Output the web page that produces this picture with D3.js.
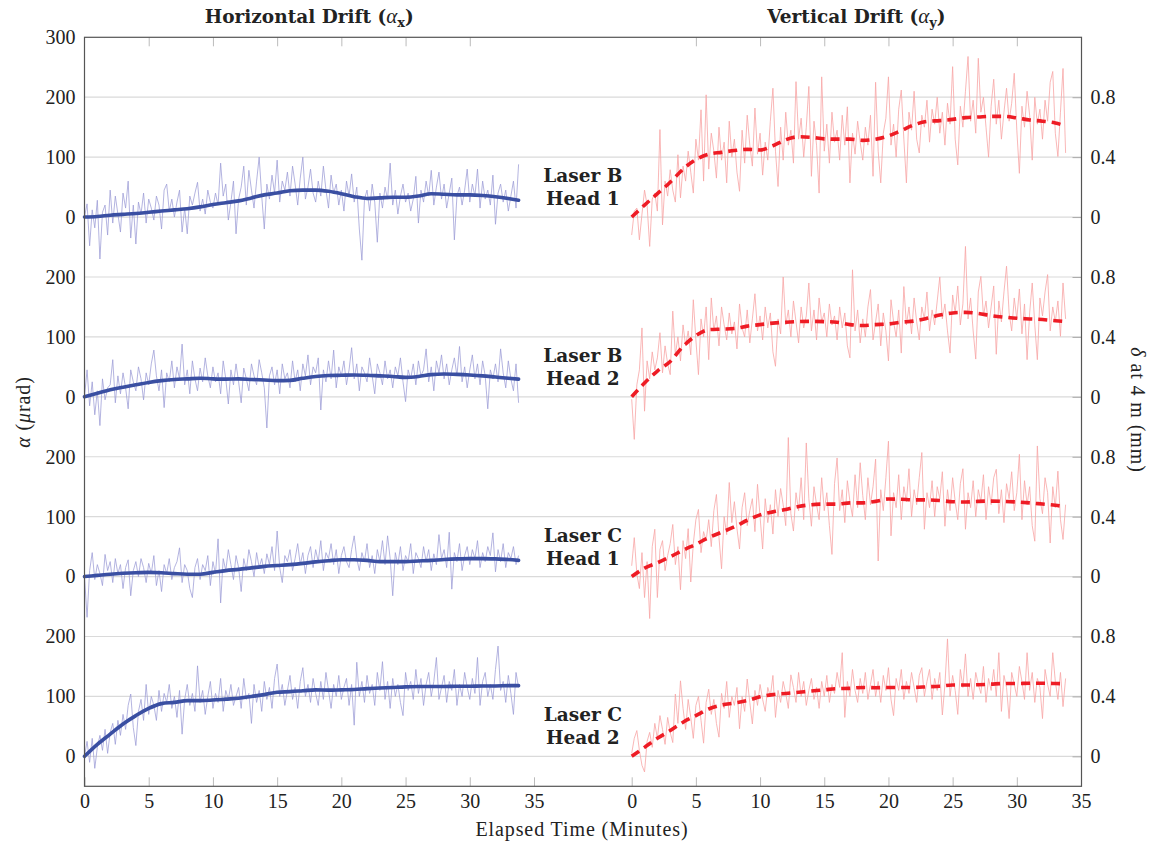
<!DOCTYPE html>
<html>
<head>
<meta charset="utf-8">
<script src="https://cdn.jsdelivr.net/npm/d3@7"></script>
<style>
  html, body { margin: 0; padding: 0; background: #fff; }
  svg { display: block; }
</style>
</head>
<body>
<svg id="chart" width="1152" height="843"></svg>
<script>
// Sample spacing of the raw readings (minutes)
const sampleStep = 0.2;

// Row captions, top to bottom
const rowNames = [["Laser B", "Head 1"], ["Laser B", "Head 2"], ["Laser C", "Head 1"], ["Laser C", "Head 2"]];

// X tick labels (minutes) and Y tick values (µrad within a row)
const xTicks = [0, 5, 10, 15, 20, 25, 30, 35];
const rowTicks = [0, 100, 200];

// Raw horizontal drift, µrad, one reading every 0.2 min
const rawBH1x = [0, 22, -48, 12, -18, 28, -70, 8, 20, -30,
 45, -10, 35, 5, -25, 40, 15, 60, -35, 20,
 -45, 25, 5, 40, -10, 30, 15, -5, 35, 20,
 -20, 45, 55, 10, 30, 0, 25, 45, -25, 15,
 -28, 35, 20, 40, 58, 10, 30, 5, 45, 25,
 15, 40, 20, 90, 35, 55, -5, 25, 60, -28,
 30, 50, 85, 20, 78, 45, 15, 60, 100, 35,
 -20, 55, 30, 70, 40, 95, 25, 60, 45, 75,
 35, 85, 55, 20, 65, 100, 30, 50, 80, 40,
 25, 60, 35, 85, 45, 15, 70, 40, 55, 20,
 45, 10, 60, 35, 72, 25, 50, -20, -72, 30,
 45, 10, 55, 25, -42, 40, 15, 50, 30, 90,
 20, 45, 5, 35, 55, 25, 40, 10, 30, 68,
 -10, 45, 25, 60, 35, 78, 20, 50, 75, 30,
 55, 15, 40, 65, -38, 35, 50, 20, 45, 80,
 25, 55, 35, 80, 15, 60, 30, 45, 20, 70,
 -12, 40, 55, 25, 45, 10, 35, 60, 15, 88];

const rawBH2x = [0, 45, -15, 25, -30, 10, -48, 30, -5, 15,
 20, 62, -10, 35, 5, 40, 15, -20, 45, 25,
 10, 50, 30, -5, 40, 20, 55, 78, 35, 10,
 45, -18, 40, 25, 60, 15, 50, 30, 88, 20,
 45, 5, 60, 30, 10, 48, 25, 65, 35, 15,
 50, 25, 40, 5, 60, 30, -12, 45, 20, 55,
 25, -10, 48, 30, 10, 55, 35, 20, 62, 40,
 15, -52, 35, 50, 20, 45, 5, 55, 30, 40,
 15, 60, 25, 45, 10, 55, 35, 70, 20, 50,
 40, 65, -22, 45, 25, 60, 30, 78, 15, 50,
 35, 60, 20, 45, 82, 30, 55, 10, 50, 40,
 25, 65, 35, 5, 55, 40, 20, 60, 30, 45,
 15, 50, 35, 65, 25, -8, 45, 30, 55, 20,
 60, 35, 45, 80, 25, 50, 10, 60, 40, 70,
 30, 55, 20, 45, 65, 35, 84, 25, 50, 15,
 45, 70, 30, 55, 20, 60, 35, -20, 45, 30,
 55, 25, 80, 40, 15, 60, 30, 10, 55, -10];

const rawCH1x = [0, -68, 10, 40, -5, 20, 5, -15, 37, 10,
 25, -10, 30, 5, 20, -20, 15, 28, -32, 10,
 25, 0, 30, 15, -10, 22, 5, 35, -15, 10,
 -25, 20, 5, 30, -5, 15, 25, 48, -10, 20,
 10, -20, -35, 15, 30, -5, 20, 10, 35, -15,
 25, 5, 63, -44, 30, 10, 45, 20, -5, 35,
 15, -25, 30, 10, 45, 25, 0, 40, 15, 30,
 5, 38, 20, 50, 10, 76, 15, -10, 35, 25,
 45, 10, 30, 55, 20, 40, 5, 35, 50, 15,
 45, 25, 60, 10, 40, 30, 55, 20, 45, 5,
 35, 50, 25, 15, 45, 68, 30, 10, 40, 25,
 55, 15, 35, 5, 45, 25, 60, 20, 68, 30,
 -32, 40, 20, 50, 10, 35, 25, 55, 5, 40,
 30, 15, 50, 25, 45, 10, 38, 20, 70, 30,
 45, 15, 74, -21, 40, 25, 55, 10, 35, 50,
 20, 45, 30, 60, 15, 40, 25, 50, 35, 73,
 8, 45, 25, 55, 15, 40, 30, 50, 20, 35];

const rawCH2x = [0, 25, -10, 30, -20, 15, 35, 10, 45, 5,
 40, 55, 20, 60, 35, 70, 45, 85, 104, 48,
 18, 75, 95, 60, 120, 70, 100, 85, 60, 110,
 75, 105, 90, 120, 80, 100, 65, 110, 37, 95,
 120, 85, 105, 75, 151, 90, 110, 70, 100, 125,
 80, 105, 90, 130, 75, 110, 95, 120, 85, 100,
 115, 80, 130, 95, 105, 55, 120, 90, 110, 75,
 125, 95, 115, 80, 130, 154, 100, 120, 85, 110,
 135, 95, 115, 80, 125, 148, 100, 120, 90, 130,
 105, 85, 125, 95, 140, 110, 80, 120, 100, 135,
 95, 115, 130, 85, 120, 52, 157, 100, 125, 90,
 135, 105, 120, 85, 140, 110, 158, 95, 125, 80,
 130, 100, 120, 90, 68, 140, 110, 125, 95, 145,
 105, 130, 85, 120, 140, 100, 125, 165, 95, 115,
 135, 90, 125, 110, 145, 85, 120, 100, 140, 115,
 95, 130, 105, 165, 85, 125, 140, 100, 120, 95,
 145, 184, 110, 125, 90, 135, 105, 70, 140, 115];

// Raw vertical drift, µrad, one reading every 0.2 min
const rawBH1y = [-30, 10, 15, -38, 5, 45, 20, -49, 30, 40,
 10, 146, -13, 60, 35, 79, 45, 25, 104, 32,
 85, 60, 110, 75, 40, 130, 95, 179, 60, 204,
 80, 140, 110, 65, 150, 95, 125, 57, 160, 100,
 130, 75, 43, 145, 90, 170, 120, 85, 182, 105,
 140, 70, 125, 95, 160, 215, 110, 51, 150, 95,
 175, 120, 145, 90, 226, 130, 165, 100, 150, 218,
 68, 160, 120, 40, 234, 110, 155, 90, 175, 125,
 145, 95, 170, 120, 184, 57, 140, 105, 160, 125,
 95, 150, 120, 170, 68, 225, 110, 57, 140, 165,
 234, 120, 155, 100, 180, 212, 130, 57, 175, 145,
 210, 130, 107, 170, 150, 195, 125, 180, 155, 200,
 140, 175, 120, 190, 155, 251, 130, 87, 185, 150,
 210, 268, 160, 195, 140, 265, 175, 200, 150, 100,
 185, 230, 155, 195, 130, 175, 215, 160, 190, 240,
 145, 73, 185, 150, 210, 170, 95, 200, 155, 180,
 130, 195, 160, 225, 243, 140, 101, 175, 248, 107];

const rawBH2y = [-4, -71, 20, 45, 115, -24, 60, 30, 75, 45,
 65, 107, 40, 85, 55, 37, 143, 70, 100, 60,
 120, 85, 110, 70, 162, 95, 37, 130, 100, 150,
 62, 165, 110, 135, 85, 150, 120, 95, 140, 105,
 125, 80, 155, 115, 100, 145, 90, 130, 172, 110,
 135, 95, 150, 115, 140, 75, 51, 130, 105, 200,
 120, 145, 100, 160, 125, 90, 150, 115, 135, 190,
 110, 145, 95, 165, 125, 140, 100, 155, 120, 135,
 95, 150, 115, 140, 85, 65, 212, 110, 145, 90,
 130, 100, 150, 179, 95, 125, 155, 85, 140, 110,
 60, 162, 125, 100, 145, 73, 184, 120, 150, 105,
 165, 125, 95, 150, 130, 175, 110, 145, 120, 160,
 200, 130, 155, 110, 73, 170, 140, 185, 120, 155,
 251, 130, 165, 110, 63, 175, 201, 135, 160, 115,
 150, 185, 71, 160, 125, 175, 218, 140, 110, 165,
 130, 180, 105, 155, 62, 140, 190, 120, 62, 165,
 135, 175, 204, 110, 150, 125, 160, 101, 190, 130];

const rawCH1y = [18, 65, 5, -20, 40, -35, 25, -70, 50, 79,
 -35, 45, 60, 10, 35, 55, 87, 20, 50, -22,
 60, 30, 80, -9, 55, 95, 112, 40, 75, 60,
 95, 50, 110, 137, 65, 13, 100, 70, 157, 90,
 125, 80, 46, 115, 140, 85, 110, 130, 75, 154,
 100, 46, 130, 90, 120, 71, 145, 100, 147, 120,
 85, 232, 105, 76, 140, 110, 165, 95, 223, 130,
 84, 150, 120, 95, 165, 110, 140, 85, 37, 155,
 198, 110, 145, 90, 160, 125, 100, 170, 115, 190,
 135, 95, 165, 120, 150, 196, 26, 145, 110, 165,
 226, 68, 140, 115, 170, 95, 150, 125, 180, 100,
 145, 120, 165, 207, 79, 140, 115, 160, 100, 150,
 130, 175, 84, 145, 110, 165, 125, 95, 155, 180,
 79, 140, 115, 160, 100, 145, 125, 170, 95, 150,
 120, 165, 179, 105, 145, 90, 155, 130, 175, 110,
 140, 204, 95, 160, 120, 150, 85, 59, 218, 130,
 105, 165, 140, 56, 150, 115, 176, 95, 62, 120];

const rawCH2y = [5, 30, 43, 10, -15, -26, 25, 40, 15, 55,
 30, 68, 45, 20, 65, 40, 23, 104, 55, 126,
 80, 45, 95, 65, 30, 85, 100, 60, 22, 90,
 112, 70, 95, 55, 32, 105, 80, 125, 65, 100,
 85, 115, 46, 100, 75, 129, 90, 54, 110, 85,
 120, 95, 75, 115, 100, 135, 65, 110, 90, 125,
 105, 80, 136, 115, 90, 140, 100, 125, 85, 110,
 130, 95, 115, 80, 125, 100, 135, 90, 120, 105,
 140, 115, 173, 65, 125, 100, 145, 110, 90, 130,
 105, 140, 95, 120, 145, 100, 125, 90, 135, 110,
 148, 95, 68, 130, 110, 145, 95, 125, 105, 140,
 115, 90, 135, 148, 100, 125, 145, 95, 130, 110,
 140, 69, 120, 196, 100, 135, 110, 70, 145, 115,
 171, 100, 130, 95, 140, 120, 105, 150, 90, 130,
 110, 145, 100, 173, 75, 135, 115, 63, 140, 120,
 100, 150, 125, 95, 173, 110, 140, 90, 130, 115,
 63, 145, 120, 100, 173, 125, 95, 140, 83, 130];

// Smoothed trend, µrad, at these times (minutes)
const trendTimes = [0,1,2,3,4,5,6,7,8,9,10,11,12,13,14,15,16,17,18,19,20,21,22,23,24,25,26,27,28,29,30,31,32,33,33.8];
const trendBH1x = [0,1,3,4.5,6,8,10,12,14,17,21,24,27,32,37,40,44,45,45,43,39,34,31,32,33,33,35,39,38,37,37,36,34,31,28];
const trendBH2x = [0,6,12,16,20,24,27,29,30,31,30,29.5,30,29,28,27,27.5,31,34,35.5,36,36.5,36,35,34,32.5,34,37,38,37.5,36.5,35,33,31,29.5];
const trendCH1x = [0,2,4,5.5,6.5,7,6.5,5,4,4,7,10,12,14.5,17,18.5,20,22,24.5,26.5,28,28,27,25,25,25,26,27,28.5,29.5,30,30,29.5,28.5,27];
const trendCH2x = [0,20,37,54,68,80,88,90,93,93,94,95.5,97,100,103,107,108,109.5,111,110.5,111,111.5,113,114,115,116,116.5,116.5,116.5,117,117,117.5,117.5,118,118];
const trendBH1y = [0,20,39,58,80,96,105,108,111,113,112,119,129,134,133,130.5,130,130,128,130,135.5,144.5,154,159.5,161,163,166,167,168,168,165.5,162,160,157,152];
const trendBH2y = [0,23,43,59,84,102,112,113,114,118,120.5,123,124.5,125.5,126,125.5,124.5,120.5,119,120.5,121.5,124.5,126.5,131,136.5,140,141,139,135.5,133,131,130,129,127,125.5];
const trendCH1y = [0,14,23,33,44,54,65,74,83,94,103,108,112,117,120,121,121,123,123,125.5,129.5,129,128,128,127,125,124.5,125.5,126,125.5,124.5,123,121,119,116.5];
const trendCH2y = [0,15,30,43,57,68,79,85.5,89,93,99.5,103,105,107,109,111,113,113.5,115,114.5,115,115,115,116,117,119,119,119.5,120.5,121.5,121.5,122,122,121.5,121];

// ---------- layout ----------
const SERIF = "'Liberation Serif', 'DejaVu Serif', serif";
const BOLD = "'DejaVu Serif', serif";
const svg = d3.select("#chart");
const plot = { left: 84.5, right: 1081.5, top: 37.3, bottom: 786.3 };
const rowSpan = 300;                       // µrad between stacked rows
const rowBase = [900, 600, 300, 0];        // stacking offset of each row

const xH = d3.scaleLinear().domain([0, 35]).range([84.5, 534]);
const xV = d3.scaleLinear().domain([0, 35]).range([631.7, 1081]);
const y = d3.scaleLinear().domain([-50, 1200]).range([plot.bottom, plot.top]);

const horiz = [rawBH1x, rawBH2x, rawCH1x, rawCH2x];
const vert  = [rawBH1y, rawBH2y, rawCH1y, rawCH2y];
const horizTrend = [trendBH1x, trendBH2x, trendCH1x, trendCH2x];
const vertTrend  = [trendBH1y, trendBH2y, trendCH1y, trendCH2y];

function numStyle(sel) {
  sel.style("font-family", SERIF).style("font-size", "20px").style("fill", "#222");
}

// horizontal grid lines
const gridVals = d3.range(0, 1200, 100);
svg.append("g").selectAll("line").data(gridVals).join("line")
  .attr("x1", plot.left).attr("x2", plot.right)
  .attr("y1", d => y(d)).attr("y2", d => y(d))
  .attr("stroke", "#dadada").attr("stroke-width", 1.2);

// traces
const gTraces = svg.append("g");
function rawLine(x, base) {
  return d3.line().x((d, i) => x(i * sampleStep)).y(d => y(d + base));
}
function trendLine(x, base) {
  return d3.line().curve(d3.curveMonotoneX).x((d, i) => x(trendTimes[i])).y(d => y(d + base));
}
horiz.forEach((s, r) => {
  gTraces.append("path").attr("d", rawLine(xH, rowBase[r])(s))
    .attr("fill", "none").attr("stroke", "#9c9cd6").attr("stroke-width", 0.9).attr("stroke-opacity", 0.85);
});
vert.forEach((s, r) => {
  gTraces.append("path").attr("d", rawLine(xV, rowBase[r])(s))
    .attr("fill", "none").attr("stroke", "#f7a6a6").attr("stroke-width", 0.9).attr("stroke-opacity", 0.9);
});
horizTrend.forEach((s, r) => {
  gTraces.append("path").attr("d", trendLine(xH, rowBase[r])(s))
    .attr("fill", "none").attr("stroke", "#3a4fa2").attr("stroke-width", 3.6)
    .attr("stroke-linejoin", "round").attr("stroke-linecap", "round");
});
vertTrend.forEach((s, r) => {
  gTraces.append("path").attr("d", trendLine(xV, rowBase[r])(s))
    .attr("fill", "none").attr("stroke", "#ee1c25").attr("stroke-width", 3.6)
    .attr("stroke-dasharray", "9,6");
});

// x axes (ticks point inward, top and bottom)
function xAxes(x) {
  const b = svg.append("g").attr("transform", `translate(0,${plot.bottom})`)
    .call(d3.axisBottom(x).tickValues(xTicks).tickSizeInner(-9).tickSizeOuter(0).tickPadding(8));
  b.select(".domain").remove();
  b.selectAll(".tick line").attr("stroke", "#bbb");
  b.selectAll(".tick text").call(numStyle);
  const t = svg.append("g").attr("transform", `translate(0,${plot.top})`)
    .call(d3.axisTop(x).tickValues(xTicks.filter(v => v < 35 && v > 0)).tickSizeInner(-9).tickSizeOuter(0).tickFormat(""));
  t.select(".domain").remove();
  t.selectAll(".tick line").attr("stroke", "#bbb");
}
xAxes(xH);
xAxes(xV);

// left axis: µrad, repeated per row
const leftVals = [1200].concat(rowBase.flatMap(b => rowTicks.map(t => b + t)));
const left = svg.append("g").attr("transform", `translate(${plot.left},0)`)
  .call(d3.axisLeft(y).tickValues(leftVals).tickSize(0).tickPadding(9)
    .tickFormat(v => v === 1200 ? "300" : String(v % rowSpan)));
left.select(".domain").remove();
left.selectAll(".tick text").call(numStyle);

// right axis: displacement at 4 m, mm
const rightVals = rowBase.flatMap(b => rowTicks.map(t => b + t));
const right = svg.append("g").attr("transform", `translate(${plot.right},0)`)
  .call(d3.axisRight(y).tickValues(rightVals).tickSizeInner(-9).tickSizeOuter(0).tickPadding(9)
    .tickFormat(v => { const mm = (v % rowSpan) * 0.004; return mm === 0 ? "0" : mm.toFixed(1); }));
right.select(".domain").remove();
right.selectAll(".tick line").attr("stroke", "#aaa");
right.selectAll(".tick text").call(numStyle);

// frame
svg.append("rect").attr("x", plot.left).attr("y", plot.top)
  .attr("width", plot.right - plot.left).attr("height", plot.bottom - plot.top)
  .attr("fill", "none").attr("stroke", "#555").attr("stroke-width", 1.2);

// row captions between the panels
const capX = (xH.range()[1] + xV.range()[0]) / 2;
function boldText(sel) {
  sel.style("font-family", BOLD).style("font-weight", "bold").style("font-size", "18.5px").style("fill", "#222");
}
rowNames.forEach((lines, r) => {
  svg.append("text").call(boldText).attr("x", capX).attr("y", y(rowBase[r] + 69))
    .attr("text-anchor", "middle").attr("dominant-baseline", "central").text(lines[0]);
  svg.append("text").call(boldText).attr("x", capX).attr("y", y(rowBase[r] + 31))
    .attr("text-anchor", "middle").attr("dominant-baseline", "central").text(lines[1]);
});

// panel titles
function title(x, sub, label) {
  const t = svg.append("text").call(boldText).attr("x", x).attr("y", 23).attr("text-anchor", "middle");
  t.append("tspan").text(label + " (");
  t.append("tspan").style("font-style", "italic").style("font-weight", "normal")
    .style("font-family", SERIF).style("font-size", "21px").text("α");
  t.append("tspan").style("font-size", "13px").attr("dy", 4).text(sub);
  t.append("tspan").attr("dy", -4).text(")");
}
title(d3.mean(xH.range()), "x", "Horizontal Drift");
title(d3.mean(xV.range()), "y", "Vertical Drift");

// axis titles
function labelText(sel) {
  sel.style("font-family", SERIF).style("font-size", "20px").style("letter-spacing", "0.9px").style("fill", "#222");
}
svg.append("text").call(labelText).attr("x", 582).attr("y", 836).attr("text-anchor", "middle")
  .text("Elapsed Time (Minutes)");

const yl = svg.append("text").call(labelText).attr("text-anchor", "middle")
  .attr("transform", "translate(30,412) rotate(-90)");
yl.append("tspan").style("font-style", "italic").text("α");
yl.append("tspan").text(" (");
yl.append("tspan").style("font-style", "italic").text("μ");
yl.append("tspan").text("rad)");

const yr = svg.append("text").call(labelText).attr("text-anchor", "middle")
  .attr("transform", "translate(1131,410) rotate(90)");
yr.append("tspan").style("font-style", "italic").text("δ");
yr.append("tspan").text(" at 4 m (mm)");
</script>
</body>
</html>
